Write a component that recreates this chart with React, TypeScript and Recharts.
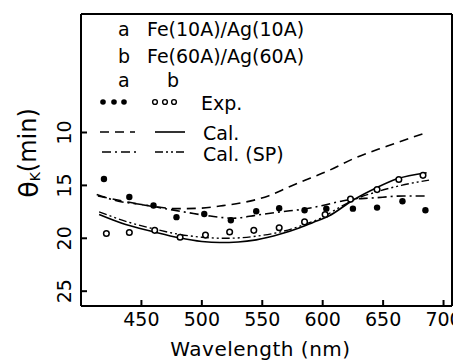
import React from 'react';
import {
  ComposedChart,
  Line,
  Scatter,
  XAxis,
  YAxis,
  ReferenceLine,
  Customized,
} from 'recharts';

const FONT = '"DejaVu Sans", sans-serif';

// Axis ticks
const xTicks = [450, 500, 550, 600, 650, 700];
const yTicks = [10, 15, 20, 25];

// Experimental, sample a: Fe(10A)/Ag(10A) (filled dots)
const expALambda = [419, 440, 460, 479, 502, 524, 545, 564, 585, 603, 625, 645, 666, 685];
const expATheta = [14.4, 16.1, 16.9, 18.0, 17.7, 18.3, 17.45, 17.15, 17.35, 17.2, 17.2, 17.1, 16.5, 17.35];

// Experimental, sample b: Fe(60A)/Ag(60A) (open circles)
const expBLambda = [421, 440, 461, 482, 503, 523, 543, 564, 585, 602, 623, 645, 663, 683];
const expBTheta = [19.55, 19.45, 19.25, 19.9, 19.7, 19.4, 19.25, 19.0, 18.45, 17.75, 16.3, 15.4, 14.45, 14.05];

// Calculated, sample a (dashed)
const calALambda = [414, 440, 460, 480, 500, 515, 535, 555, 573, 590, 605, 625, 653, 686];
const calATheta = [16.0, 16.6, 17.0, 17.2, 17.15, 16.95, 16.6, 16.0, 15.1, 14.3, 13.6, 12.5, 11.3, 10.0];

// Calculated (SP), sample a (dash-dot)
const spALambda = [413, 431, 450, 470, 490, 507, 526, 546, 565, 584, 600, 615, 625, 640, 667, 687];
const spATheta = [15.85, 16.5, 16.8, 17.2, 17.6, 17.9, 18.1, 17.8, 17.5, 17.25, 16.9, 16.5, 16.3, 16.2, 16.0, 16.0];

// Calculated, sample b (solid)
const calBLambda = [415, 437, 459, 481, 500, 515, 530, 545, 565, 581, 592, 605, 625, 645, 661, 686];
const calBTheta = [17.75, 18.7, 19.35, 19.95, 20.3, 20.4, 20.35, 20.15, 19.6, 19.0, 18.5, 17.9, 16.4, 15.2, 14.4, 13.8];

// Calculated (SP), sample b (dash-dot-dot)
const spBLambda = [415, 440, 460, 480, 500, 520, 545, 565, 585, 600, 615, 625, 645, 665, 688];
const spBTheta = [17.5, 18.5, 19.1, 19.6, 19.9, 20.0, 19.8, 19.4, 18.7, 18.0, 17.0, 16.4, 15.6, 15.0, 14.5];

const zip = (xs: number[], ys: number[]) => xs.map((x, i) => ({ x, y: ys[i] }));

const expA = zip(expALambda, expATheta);
const expB = zip(expBLambda, expBTheta);
const calA = zip(calALambda, calATheta);
const spA = zip(spALambda, spATheta);
const calB = zip(calBLambda, calBTheta);
const spB = zip(spBLambda, spBTheta);

const X_DOMAIN: [number, number] = [400, 707];
const Y_DOMAIN: [number, number] = [-1.2, 26.4];

const DASH_A = '9 6';
const DASHDOT_A = '9 4 2 4';
const DASHDOT2_B = '8 3 2 3 2 3';

const FilledDot = (p: any) => <circle cx={p.cx} cy={p.cy} r={3.2} fill="#000" />;
const OpenDot = (p: any) => (
  <circle cx={p.cx} cy={p.cy} r={2.8} fill="#fff" stroke="#000" strokeWidth={1.5} />
);

const YTick = (p: any) => (
  <text
    x={p.x}
    y={p.y}
    transform={`rotate(-90, ${p.x}, ${p.y})`}
    textAnchor="middle"
    dominantBaseline="central"
    fontSize={19}
    fontFamily={FONT}
    fill="#000"
  >
    {p.payload.value}
  </text>
);

const LegendBox = () => {
  const fs = 19;
  const t = { fontSize: fs, fontFamily: FONT, fill: '#000' } as const;
  return (
    <g>
      <text x={110} y={28} {...t}>a</text>
      <text x={139} y={28} {...t}>Fe(10A)/Ag(10A)</text>
      <text x={110} y={55} {...t}>b</text>
      <text x={139} y={55} {...t}>Fe(60A)/Ag(60A)</text>
      <text x={110} y={79} {...t}>a</text>
      <text x={159} y={79} {...t}>b</text>

      {[95, 106, 116].map((cx) => (
        <circle key={cx} cx={cx} cy={94} r={2.8} fill="#000" />
      ))}
      {[147, 157, 166].map((cx) => (
        <circle key={cx} cx={cx} cy={94} r={2.4} fill="#fff" stroke="#000" strokeWidth={1.4} />
      ))}
      <text x={193} y={102} {...t}>Exp.</text>

      <line x1={92} x2={127} y1={124} y2={124} stroke="#000" strokeWidth={1.6} strokeDasharray={DASH_A} />
      <line x1={147} x2={177} y1={124} y2={124} stroke="#000" strokeWidth={1.6} />
      <text x={195} y={132} {...t}>Cal.</text>

      <line x1={94} x2={129} y1={144} y2={144} stroke="#000" strokeWidth={1.6} strokeDasharray={DASHDOT_A} />
      <line x1={147} x2={179} y1={144} y2={144} stroke="#000" strokeWidth={1.6} strokeDasharray={DASHDOT2_B} />
      <text x={195} y={153} {...t}>Cal. (SP)</text>
    </g>
  );
};

const YLabel = (props: any) => {
  const vb = props.viewBox || { x: 0, y: 0, width: 0, height: 0 };
  const cx = vb.x + 20;
  const cy = vb.y + vb.height / 2 - 7;
  return (
    <text
      x={cx}
      y={cy}
      transform={`rotate(-90, ${cx}, ${cy})`}
      textAnchor="middle"
      dominantBaseline="central"
      fontFamily={FONT}
      fill="#000"
    >
      <tspan fontSize={27}>θ</tspan>
      <tspan fontSize={14} dy={7}>K</tspan>
      <tspan fontSize={24} dy={-7}>(min)</tspan>
    </text>
  );
};

const XLabel = (props: any) => {
  const vb = props.viewBox || { x: 0, y: 0, width: 0, height: 0 };
  return (
    <text
      x={vb.x + vb.width / 2 - 6}
      y={vb.y + 50}
      textAnchor="middle"
      fontSize={20}
      letterSpacing={0.5}
      fontFamily={FONT}
      fill="#000"
    >
      Wavelength (nm)
    </text>
  );
};

export default function App() {
  return (
    <ComposedChart
      width={453}
      height={353}
      margin={{ top: 6, right: 9, bottom: 0, left: 0 }}
      style={{ background: '#fff' }}
    >
      <XAxis
        dataKey="x"
        type="number"
        domain={X_DOMAIN}
        ticks={xTicks}
        allowDataOverflow
        height={55}
        tickSize={-6}
        tickMargin={13}
        axisLine={{ stroke: '#000', strokeWidth: 2 }}
        tickLine={{ stroke: '#000', strokeWidth: 2 }}
        tick={{ fontSize: 19, fontFamily: FONT, fill: '#000' }}
        label={<XLabel />}
      />
      <YAxis
        dataKey="y"
        type="number"
        domain={Y_DOMAIN}
        ticks={yTicks}
        reversed
        allowDataOverflow
        width={73}
        tickSize={-6}
        tickMargin={23}
        axisLine={{ stroke: '#000', strokeWidth: 2 }}
        tickLine={{ stroke: '#000', strokeWidth: 2 }}
        tick={<YTick />}
        label={<YLabel />}
      />
      <ReferenceLine x={707} stroke="#000" strokeWidth={2} />
      <ReferenceLine y={-1.2} stroke="#000" strokeWidth={2} />

      <Line data={calA} dataKey="y" type="monotone" stroke="#000" strokeWidth={1.6} strokeDasharray={DASH_A} dot={false} isAnimationActive={false} />
      <Line data={spA} dataKey="y" type="monotone" stroke="#000" strokeWidth={1.6} strokeDasharray={DASHDOT_A} dot={false} isAnimationActive={false} />
      <Line data={calB} dataKey="y" type="monotone" stroke="#000" strokeWidth={1.6} dot={false} isAnimationActive={false} />
      <Line data={spB} dataKey="y" type="monotone" stroke="#000" strokeWidth={1.4} strokeDasharray={DASHDOT2_B} dot={false} isAnimationActive={false} />

      <Scatter data={expA} dataKey="y" shape={<FilledDot />} isAnimationActive={false} />
      <Scatter data={expB} dataKey="y" shape={<OpenDot />} isAnimationActive={false} />

      <Customized component={LegendBox} />
    </ComposedChart>
  );
}
